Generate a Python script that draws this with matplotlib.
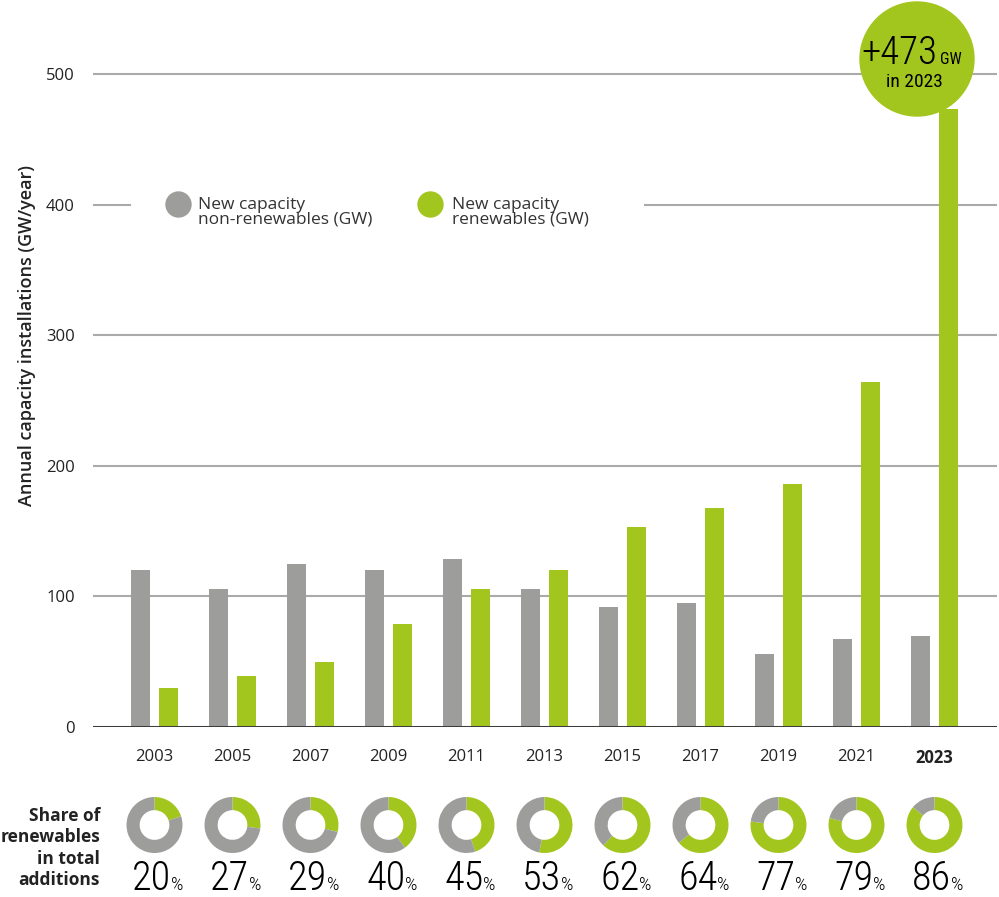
import matplotlib
matplotlib.use("Agg")
import matplotlib.pyplot as plt
from matplotlib import font_manager
from matplotlib.patches import Circle
import numpy as np

# ---------------- data ----------------
years = ["2003", "2005", "2007", "2009", "2011", "2013", "2015", "2017", "2019", "2021", "2023"]
non_renewables = [120, 106, 125, 120, 129, 106, 92, 95, 56, 67, 70]
renewables = [30, 39, 50, 79, 106, 120, 153, 168, 186, 264, 473]
share_pct = [20, 27, 29, 40, 45, 53, 62, 64, 77, 79, 86]
yticks = [0, 100, 200, 300, 400, 500]

GRAY = "#9D9D9C"
GREEN = "#A3C61E"
TXT = "#222222"

def pick(fams, default="DejaVu Sans"):
    for f in fams:
        try:
            font_manager.findfont(f, fallback_to_default=False)
            return f
        except Exception:
            pass
    return default

MAIN = pick(["Open Sans", "Lato", "DejaVu Sans"])
COND = pick(["Liberation Sans Narrow", "Roboto Condensed", "DejaVu Sans Condensed", "Liberation Sans"])
plt.rcParams["font.family"] = [MAIN, "DejaVu Sans"]

W, H = 999, 897
fig = plt.figure(figsize=(W / 100, H / 100), dpi=100)

def fx(px):
    return px / W

def fy(py):
    return 1 - py / H

# main axes: x from 93 px to 997 px, zero at 727 px, 500 at 74 px
pxgw = (727 - 74) / 500.0
ax = fig.add_axes([fx(93), fy(727), (997 - 93) / W, 727 / H])
ax.set_ylim(0, 727 / pxgw)
x0px, step = 154.5, 78.0
ax.set_xlim((93 - x0px) / step, (997 - x0px) / step)

x = np.arange(len(years))
bw = 19 / step
off = 14 / step
ax.bar(x - off, non_renewables, width=bw, color=GRAY, zorder=3)
ax.bar(x + off, renewables, width=bw, color=GREEN, zorder=3)

for s in ax.spines.values():
    s.set_visible(False)

for t in yticks[1:]:
    if t == 400:
        ax.axhline(t, xmin=0, xmax=(130 - 93) / 904, color="#AAAAAA", lw=1.5, zorder=1)
        ax.axhline(t, xmin=(645 - 93) / 904, xmax=1, color="#AAAAAA", lw=1.5, zorder=1)
    else:
        ax.axhline(t, color="#AAAAAA", lw=1.5, zorder=1)
ax.axhline(0, color="#3C3C3C", lw=2.2, zorder=4)

ax.set_yticks(yticks)
ax.set_yticklabels([str(t) for t in yticks], fontsize=12, color=TXT)
ax.tick_params(axis="y", length=0, pad=13)
ax.set_xticks(x)
ax.set_xticklabels(years, fontsize=12, color=TXT)
ax.tick_params(axis="x", length=0, pad=16)
ax.get_xticklabels()[-1].set_fontweight("bold")

fig.text(fx(27), fy(335), "Annual capacity installations (GW/year)", fontsize=13,
         fontweight="semibold", color=TXT, rotation=90, ha="center", va="center")

# overlay axes in pixel coordinates
ov = fig.add_axes([0, 0, 1, 1])
ov.set_xlim(0, W)
ov.set_ylim(H, 0)
ov.axis("off")
ov.patch.set_alpha(0)

# legend
ov.plot([178], [204], "o", ms=19, color=GRAY, mec="none")
ov.text(198, 212, "New capacity\nnon-renewables (GW)", fontsize=12.5, color="#333333",
        va="center", ha="left", linespacing=0.85)
ov.plot([430], [204], "o", ms=19, color=GREEN, mec="none")
ov.text(452, 212, "New capacity\nrenewables (GW)", fontsize=12.5, color="#333333",
        va="center", ha="left", linespacing=0.85)

# bubble
ov.add_patch(Circle((917, 59), 57, color=GREEN, zorder=5))
ov.text(937, 64, "+" + str(renewables[-1]), fontsize=28, family=COND, fontweight="light",
        color="black", ha="right", va="baseline", zorder=6)
ov.text(940, 64, "GW", fontsize=11.5, family=COND, color="black",
        ha="left", va="baseline", zorder=6)
ov.text(914, 87, "in " + years[-1], fontsize=14, family=COND, color="black",
        ha="center", va="baseline", zorder=6)

ov.text(100, 848, "Share of\nrenewables\nin total\nadditions", fontsize=12.5,
        fontweight="bold", color=TXT, ha="right", va="center", linespacing=1.25)

# donuts
R = 28
for i, p in enumerate(share_pct):
    cx = x0px + step * i
    cy = 825
    dax = fig.add_axes([fx(cx - R), fy(cy + R), 2 * R / W, 2 * R / H])
    dax.pie([p, 100 - p], colors=[GREEN, GRAY], startangle=90, counterclock=False,
            radius=1, wedgeprops=dict(width=0.47, edgecolor="none"))
    dax.set_xlim(-1, 1)
    dax.set_ylim(-1, 1)
    dax.set_aspect("auto")
    dax.axis("off")

for i, p in enumerate(share_pct):
    cx = x0px + step * i
    fig.text(fx(cx + 17), fy(890), str(p), fontsize=29, family=COND, fontweight="light",
             color="black", ha="right", va="baseline")
    fig.text(fx(cx + 17), fy(890), "%", fontsize=14, family=COND, fontweight="light",
             color="black", ha="left", va="baseline")

fig.savefig("out.png", dpi=100)
